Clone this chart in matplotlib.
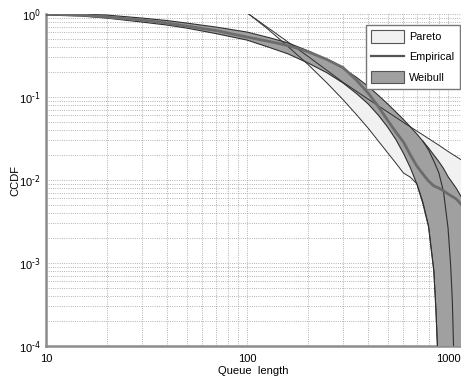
import numpy as np
import matplotlib.pyplot as plt
from matplotlib.patches import Patch
from matplotlib.lines import Line2D

# Pareto band (two bounding curves)
pareto_hi_x = [102, 150, 200, 300, 400, 500, 600, 700, 800, 900, 1000, 1160]
pareto_hi_y = [1.0, 0.514, 0.312, 0.151, 0.0945, 0.0663, 0.0494, 0.0389, 0.0316, 0.0263, 0.0221, 0.0176]
pareto_lo_x = [102, 125, 150, 200, 250, 300, 350, 400, 450, 500, 550, 600, 650, 700, 750, 800, 850, 870, 885, 895]
pareto_lo_y = [1.0, 0.679, 0.466, 0.250, 0.1475, 0.0933, 0.0615, 0.0423, 0.0295, 0.0214, 0.0160, 0.01215,
               0.0108, 0.0090, 0.0054, 0.0028, 0.00082, 0.00029, 0.000105, 0.00004]

# Weibull band
weib_hi_x = [10, 15, 20, 30, 40, 50, 70, 100, 130, 160, 200, 250, 300, 350, 400, 450, 500, 550, 600,
             650, 700, 750, 800, 850, 900, 950, 1000, 1100, 1160, 1300, 1500, 1800, 2000, 2200]
weib_hi_y = [1.0, 0.995, 0.973, 0.895, 0.835, 0.779, 0.697, 0.607, 0.517, 0.449, 0.363, 0.284, 0.223,
             0.173, 0.135, 0.105, 0.0828, 0.0661, 0.0536, 0.0436, 0.0358, 0.0293, 0.0243, 0.0200,
             0.01666, 0.01376, 0.01099, 0.00792, 0.00634, 0.00379, 0.00169, 0.000448, 0.000147, 0.0000389]
weib_lo_x = [10, 15, 20, 30, 40, 50, 70, 100, 130, 160, 200, 250, 300, 350, 400, 450, 500, 550, 600,
             650, 700, 750, 800, 850, 870, 885, 895]
weib_lo_y = [0.973, 0.946, 0.895, 0.801, 0.737, 0.678, 0.582, 0.486, 0.394, 0.331, 0.259, 0.196, 0.148,
             0.1105, 0.0828, 0.0605, 0.0436, 0.0308, 0.0210, 0.0140, 0.0089, 0.00518, 0.00272,
             0.00078, 0.000272, 0.0001, 0.0000389]
weib_mid_x = [750, 800, 850, 900, 950, 1000, 1030, 1050, 1065, 1075]
weib_mid_y = [0.0294, 0.023, 0.0169, 0.0122, 0.00717, 0.00264, 0.000946, 0.000358, 0.0001, 0.00004]

# Empirical CCDF
emp_x = [10, 15, 20, 30, 40, 50, 70, 100, 130, 160, 200, 250, 300, 350, 400, 450, 500, 550, 600,
         650, 700, 750, 800, 850, 900, 950, 1000, 1100, 1160]
emp_y = [1.0, 0.973, 0.92, 0.847, 0.779, 0.717, 0.633, 0.528, 0.466, 0.417, 0.354, 0.283, 0.227, 0.160,
         0.112, 0.0769, 0.0528, 0.0379, 0.0287, 0.0200, 0.0147, 0.0118, 0.0097, 0.0085, 0.0080,
         0.0074, 0.0068, 0.0059, 0.0051]

y_exps = ['-4', '-3', '-2', '-1', '0']

plt.rcParams['font.family'] = ['Liberation Sans', 'DejaVu Sans']

fig = plt.figure(figsize=(4.61, 3.8), dpi=100)
ax = fig.add_axes([0.0998, 0.0895, 0.9002, 0.8735])
ax.set_xscale('log')
ax.set_yscale('log')
ax.set_xlim(10, 1160)
ax.set_ylim(1e-4, 1)

edge = '#303030'
# pareto fill
px = pareto_hi_x + [1160] + pareto_lo_x[::-1]
py = pareto_hi_y + [1e-5] + pareto_lo_y[::-1]
ax.fill(px, py, facecolor='#f1f1f1', edgecolor='none', zorder=2)

# weibull fill
wx = weib_hi_x + weib_lo_x[::-1]
wy = weib_hi_y + weib_lo_y[::-1]
ax.fill(wx, wy, facecolor='#a0a0a0', edgecolor='none', zorder=3)
ax.plot(weib_hi_x, weib_hi_y, color=edge, lw=0.8, zorder=4)
ax.plot(weib_lo_x, weib_lo_y, color=edge, lw=0.8, zorder=4)
ax.plot(weib_mid_x, weib_mid_y, color=edge, lw=0.8, zorder=4)

ax.plot(pareto_hi_x, pareto_hi_y, color=edge, lw=0.7, zorder=5)
ax.plot(pareto_lo_x, pareto_lo_y, color=edge, lw=0.7, zorder=5)

ax.plot(emp_x, emp_y, color='#6c6c6c', lw=2.0, zorder=6)

ax.grid(True, which='both', color='#9a9a9a', linestyle=':', linewidth=0.6, zorder=0)
ax.set_axisbelow(True)
ax.tick_params(which='both', length=0, labelsize=8, pad=6)
ax.tick_params(axis='y', pad=4)
ax.set_xticks([10, 100, 1000])
ax.set_xticklabels(['10', '100', '1000'])
ax.set_yticks([1e-4, 1e-3, 1e-2, 1e-1, 1])
# hyphen-style small exponents like the original
ax.set_yticklabels(['$\\mathregular{10^{\\mathsf{%s}}}$' % e.replace('-', '\u2010') for e in y_exps])
for s in ['top', 'right']:
    ax.spines[s].set_visible(False)
for s in ['left', 'bottom']:
    ax.spines[s].set_color('#8c8c8c')
    ax.spines[s].set_linewidth(1.8)

ax.set_xlabel('Queue  length', fontsize=8, labelpad=1)
ax.set_ylabel('CCDF', fontsize=8)
ax.yaxis.set_label_coords(-0.062, 0.5)

handles = [Patch(facecolor='#f1f1f1', edgecolor='#555555', lw=0.8),
           Line2D([], [], color='#555555', lw=1.6),
           Patch(facecolor='#a0a0a0', edgecolor='#555555', lw=0.8)]
leg = ax.legend(handles, ['Pareto', 'Empirical', 'Weibull'], loc='upper left',
                bbox_to_anchor=(0.771, 0.967), fontsize=7.8, frameon=True,
                fancybox=False, framealpha=1, edgecolor='#777777',
                handlelength=3.0, handleheight=1.35, labelspacing=0.75,
                borderpad=0.5, handletextpad=0.5, borderaxespad=0)
leg.get_frame().set_linewidth(1.0)
leg.set_zorder(10)

fig.savefig('out.png', dpi=100)
